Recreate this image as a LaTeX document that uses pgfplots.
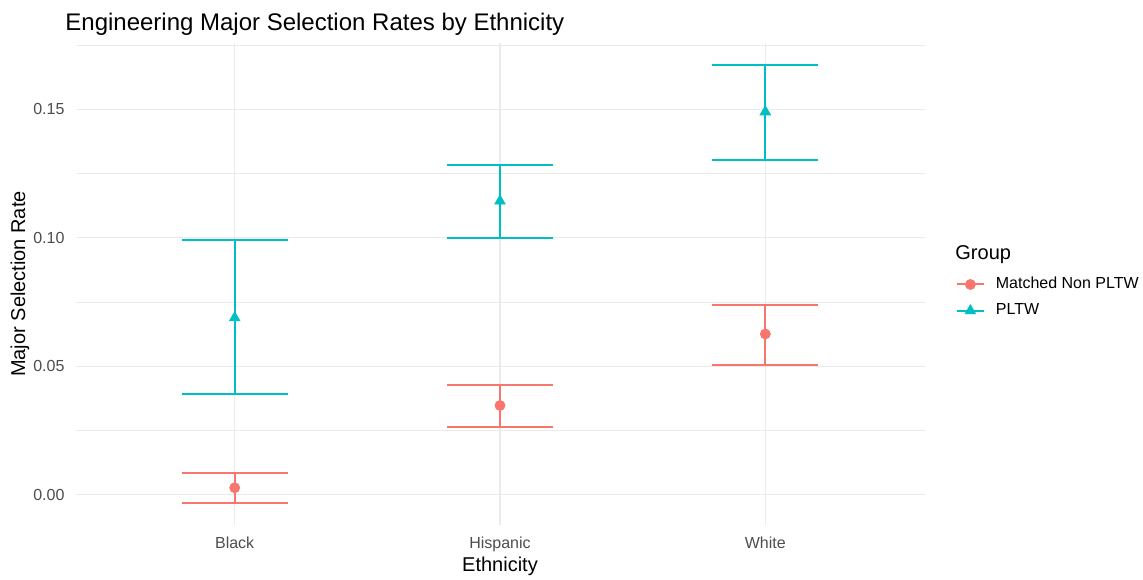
\documentclass[border=0pt]{standalone}
\usepackage{fontspec}
\setmainfont{Liberation Sans}
\usepackage{pgfplots}
\usepackage{pgfplotstable}
\pgfplotsset{compat=1.18}
\definecolor{cM}{HTML}{F8766D}
\definecolor{cP}{HTML}{00BFC4}
\definecolor{gridc}{HTML}{EBEBEB}
\definecolor{tickc}{HTML}{4D4D4D}
\pgfplotstableread{
x y lo hi
1 0.0028 -0.0032 0.0087
2 0.0348 0.0264 0.0429
3 0.0626 0.0505 0.0740
}\matched
\pgfplotstableread{
x y lo hi
1 0.0689 0.0392 0.0990
2 0.1143 0.1000 0.1283
3 0.1490 0.1304 0.1673
}\pltw
\begin{document}
\begin{tikzpicture}
\path[use as bounding box] (-37.5pt,-27pt) rectangle (534pt,262.5pt);
\begin{axis}[
  at={(0.25pt,0pt)}, anchor=south west,
  scale only axis, width=424.5pt, height=241pt,
  xmin=0.4, xmax=3.6, ymin=-0.0117, ymax=0.1758,
  xtick={1,2,3}, xticklabels={Black,Hispanic,White},
  ytick={0,0.05,0.1,0.15},
  minor ytick={0.025,0.075,0.125,0.175},
  ticklabel style={font=\fontsize{8}{9.6}\selectfont, text=tickc},
  yticklabel style={xshift=-2pt, /pgf/number format/.cd, fixed, fixed zerofill, precision=2, assume math mode=true},
  xticklabel style={yshift=-2.5pt},
  major tick length=0pt, minor tick length=0pt,
  xmajorgrids, ymajorgrids, yminorgrids,
  major grid style={gridc, line width=0.55pt},
  minor grid style={gridc, line width=0.3pt},
  axis line style={draw=none},
  clip=false,
  legend style={draw=none, fill=none, at={(1.0365,0.472)}, anchor=west,
    font=\fontsize{8}{9.6}\selectfont, row sep=6pt, inner sep=0pt,
    nodes={inner ysep=0pt, inner xsep=5.5pt},
    legend cell align=left},
  legend image code/.code={
    \draw[#1, mark=none, line width=1pt] (0pt,0pt) -- (13.5pt,0pt);
    \draw[#1, only marks] plot coordinates {(6.75pt,0pt)};
  },
]
% error bar stems (from lo to hi)
\addplot[forget plot, cM, line width=1pt, mark=none, quiver={u=0, v={\thisrow{hi}-\thisrow{lo}}}] table[x=x, y=lo] {\matched};
\addplot[forget plot, cP, line width=1pt, mark=none, quiver={u=0, v={\thisrow{hi}-\thisrow{lo}}}] table[x=x, y=lo] {\pltw};
% caps
\addplot[forget plot, only marks, mark=-, mark size=26.5pt, color=cM, mark options={line width=1pt}] table[x=x, y=hi] {\matched};
\addplot[forget plot, only marks, mark=-, mark size=26.5pt, color=cM, mark options={line width=1pt}] table[x=x, y=lo] {\matched};
\addplot[forget plot, only marks, mark=-, mark size=26.5pt, color=cP, mark options={line width=1pt}] table[x=x, y=hi] {\pltw};
\addplot[forget plot, only marks, mark=-, mark size=26.5pt, color=cP, mark options={line width=1pt}] table[x=x, y=lo] {\pltw};
% points
\addplot[only marks, mark=*, color=cM, fill=cM, mark size=2.5pt] table[x=x, y=y] {\matched};
\addlegendentry{Matched Non PLTW}
\addplot[only marks, mark=triangle*, color=cP, fill=cP, mark size=3pt, mark options={solid, line width=0.4pt}] table[x=x, y=y] {\pltw};
\addlegendentry{PLTW}
\end{axis}
\node[anchor=west, font=\fontsize{12}{14}\selectfont, inner sep=0pt] at (-5pt,250.5pt) {Engineering Major Selection Rates by Ethnicity};
\node[rotate=90, font=\fontsize{10}{12}\selectfont, inner sep=0pt] at (-27.5pt,120.5pt) {Major Selection Rate};
\node[font=\fontsize{10}{12}\selectfont, inner sep=0pt] at (212.5pt,-20.5pt) {Ethnicity};
\node[anchor=west, font=\fontsize{10}{12}\selectfont, inner sep=0pt] at (440pt,135pt) {Group};
\end{tikzpicture}
\end{document}
